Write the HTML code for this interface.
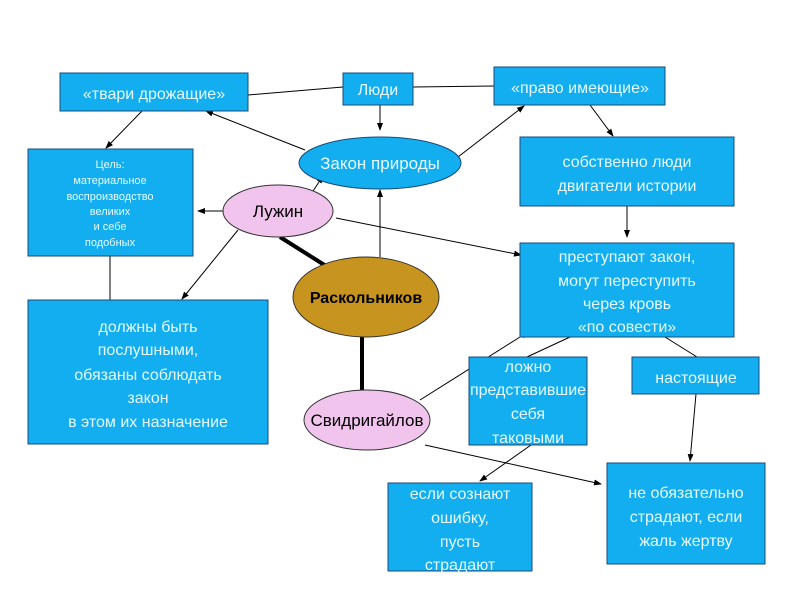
<!DOCTYPE html>
<html><head><meta charset="utf-8"><style>
html,body{margin:0;padding:0;background:#fff;width:800px;height:600px;overflow:hidden}
svg text{font-family:"Liberation Sans",sans-serif}
</style></head><body>
<svg width="800" height="600" viewBox="0 0 800 600" xmlns="http://www.w3.org/2000/svg">
<defs><marker id="a" markerWidth="8" markerHeight="8" refX="7" refY="4" orient="auto" markerUnits="userSpaceOnUse"><path d="M0,1 L8,4 L0,7 z" fill="#000"/></marker></defs>
<g stroke="#000" stroke-width="1" fill="none">
<line x1="343" y1="87" x2="248" y2="95"/>
<line x1="413" y1="87" x2="494" y2="86"/>
<line x1="380" y1="105" x2="380" y2="130" marker-end="url(#a)"/>
<line x1="305" y1="150" x2="206" y2="111" marker-end="url(#a)"/>
<line x1="458" y1="157" x2="524" y2="106" marker-end="url(#a)"/>
<line x1="142" y1="111" x2="106" y2="148" marker-end="url(#a)"/>
<line x1="313" y1="191" x2="323" y2="176" marker-end="url(#a)"/>
<line x1="223" y1="211" x2="198" y2="211" marker-end="url(#a)"/>
<line x1="336" y1="218" x2="521" y2="255" marker-end="url(#a)"/>
<line x1="238" y1="230" x2="182" y2="299" marker-end="url(#a)"/>
<line x1="110" y1="256" x2="110" y2="300"/>
<line x1="380" y1="257" x2="380" y2="190" marker-end="url(#a)"/>
<line x1="590" y1="105" x2="613" y2="136" marker-end="url(#a)"/>
<line x1="627" y1="206" x2="627" y2="237" marker-end="url(#a)"/>
<line x1="420" y1="400" x2="528" y2="332" marker-end="url(#a)"/>
<line x1="570" y1="337" x2="527" y2="357"/>
<line x1="665" y1="337" x2="697" y2="357"/>
<line x1="531" y1="445" x2="480" y2="481" marker-end="url(#a)"/>
<line x1="425" y1="445" x2="601" y2="484" marker-end="url(#a)"/>
<line x1="696" y1="394" x2="690" y2="461" marker-end="url(#a)"/>
</g>
<g stroke="#000" stroke-width="4">
<line x1="280" y1="237" x2="326" y2="266"/>
<line x1="362" y1="336" x2="362" y2="393"/>
</g>
<g fill="#12aef0" stroke="#1a4a7a" stroke-width="1">
<rect x="60" y="73" width="188" height="38"/>
<rect x="343" y="73" width="70" height="32"/>
<rect x="494" y="67" width="171" height="38"/>
<rect x="28" y="149" width="165" height="107"/>
<rect x="520" y="137" width="214" height="69"/>
<rect x="520" y="243" width="214" height="94"/>
<rect x="28" y="300" width="240" height="144"/>
<rect x="469" y="357" width="118" height="88"/>
<rect x="632" y="357" width="127" height="37"/>
<rect x="388" y="483" width="144" height="88"/>
<rect x="607" y="463" width="158" height="101"/>
<ellipse cx="380" cy="163" rx="81" ry="26"/>
</g>
<ellipse cx="278" cy="211" rx="55" ry="26" fill="#f0c4ec" stroke="#333"/>
<ellipse cx="366" cy="297" rx="73" ry="40" fill="#c89420" stroke="#333"/>
<ellipse cx="367" cy="420" rx="63" ry="30" fill="#f0c4ec" stroke="#333"/>
<g fill="#e6faff" text-anchor="middle" font-size="16">
<text x="154" y="99">«твари дрожащие»</text>
<text x="378" y="95">Люди</text>
<text x="580" y="93">«право имеющие»</text>
<text x="380" y="169" font-size="17">Закон природы</text>
<text x="627" y="167">собственно люди</text>
<text x="627" y="191">двигатели истории</text>
<text x="627" y="262">преступают закон,</text>
<text x="627" y="286">могут переступить</text>
<text x="627" y="309">через кровь</text>
<text x="627" y="332">«по совести»</text>
<text x="148" y="332">должны быть</text>
<text x="148" y="355">послушными,</text>
<text x="148" y="380">обязаны соблюдать</text>
<text x="148" y="403">закон</text>
<text x="148" y="427">в этом их назначение</text>
<text x="528" y="372">ложно</text>
<text x="528" y="395">представившие</text>
<text x="528" y="419">себя</text>
<text x="528" y="443">таковыми</text>
<text x="696" y="383">настоящие</text>
<text x="460" y="499">если сознают</text>
<text x="460" y="523">ошибку,</text>
<text x="460" y="547">пусть</text>
<text x="460" y="570">страдают</text>
<text x="686" y="498">не обязательно</text>
<text x="686" y="522">страдают, если</text>
<text x="686" y="546">жаль жертву</text>
<g font-size="11"><text x="110" y="168">Цель:</text><text x="110" y="184">материальное</text><text x="110" y="200">воспроизводство</text><text x="110" y="215">великих</text><text x="110" y="230">и себе</text><text x="110" y="246">подобных</text></g>
</g>
<g fill="#000" text-anchor="middle" font-size="17">
<text x="278" y="217">Лужин</text>
<text x="366" y="303" font-weight="bold" font-size="16">Раскольников</text>
<text x="367" y="426">Свидригайлов</text>
</g>
</svg>
</body></html>
